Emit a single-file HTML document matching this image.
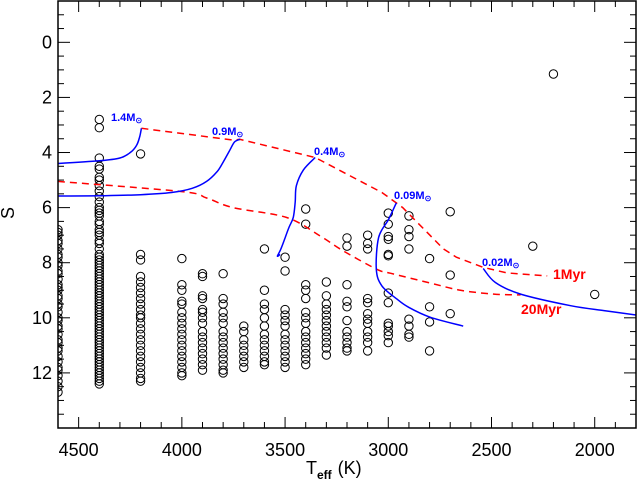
<!DOCTYPE html>
<html><head><meta charset="utf-8"><style>
html,body{margin:0;padding:0;background:#fff;}
svg{display:block;}
text{font-family:"Liberation Sans",sans-serif;}
</style></head><body>
<svg id="chart" width="637" height="483" viewBox="0 0 637 483" xmlns="http://www.w3.org/2000/svg">
<defs><clipPath id="clip"><rect x="58" y="1" width="578" height="427"/></clipPath></defs>
<g id="marks" clip-path="url(#clip)"></g>
<g id="axes"></g>
<rect x="58" y="1" width="578" height="427" fill="none" stroke="#000" stroke-width="1.5"/>
<text x="14" y="213" font-size="18" text-anchor="middle" font-family="Liberation Serif, serif" transform="rotate(-90 14 213)">S</text>
<text x="306" y="474" font-size="18" font-family="Liberation Serif, serif">T<tspan font-size="12" dy="5" font-family="Liberation Sans, sans-serif" font-weight="bold">eff</tspan><tspan dy="-5" dx="6">(K)</tspan></text>
</svg>
<script>
const xTicks=[4500,4000,3500,3000,2500,2000];
const yTicks=[0,2,4,6,8,10,12];
const colTemps=[4600,4400,4200,4000,3900,3800,3700,3600,3500,3400,3300,3200,3100,3000,2900,2800,2700,2300,2200,2000];
const colMags=[
[6.8,6.9,7.0,7.2,7.3,7.5,7.7,7.8,8.0,8.1,8.3,8.4,8.6,8.8,8.9,9.0,9.2,9.3,9.5,9.6,9.8,10.0,10.1,10.3,10.4,10.6,10.8,10.9,11.1,11.2,11.4,11.6,11.8,11.9,12.1,12.3,12.5,12.7],
[2.8,3.1,4.2,4.5,4.6,4.9,5.0,5.2,5.4,5.6,5.8,6.0,6.1,6.2,6.3,6.5,6.6,6.8,6.9,7.0,7.2,7.3,7.5,7.7,7.8,7.9,8.0,8.1,8.2,8.3,8.4,8.5,8.6,8.7,8.8,8.9,9.0,9.1,9.2,9.3,9.4,9.5,9.6,9.7,9.8,9.9,10.0,10.1,10.2,10.3,10.4,10.5,10.6,10.7,10.8,10.9,11.0,11.1,11.2,11.3,11.4,11.5,11.6,11.7,11.8,11.9,12.0,12.1,12.2,12.3,12.4],
[4.05,7.7,7.9,8.5,8.7,8.9,9.1,9.3,9.5,9.7,9.9,10.0,10.2,10.4,10.6,10.8,11.0,11.2,11.4,11.6,11.8,12.0,12.2,12.3],
[7.85,8.8,9.0,9.4,9.5,9.8,10.0,10.2,10.4,10.6,10.8,11.0,11.2,11.4,11.6,11.8,12.0,12.1],
[8.4,8.5,9.2,9.3,9.7,9.8,10.0,10.2,10.5,10.7,10.9,11.1,11.3,11.5,11.7,11.9],
[8.4,9.3,9.5,9.8,10.0,10.2,10.5,10.7,10.9,11.1,11.3,11.5,11.7,11.9,12.0],
[10.3,10.5,10.8,11.0,11.2,11.4,11.6,11.8],
[7.5,9.0,9.5,9.7,10.0,10.3,10.6,10.8,11.0,11.2,11.4,11.6,11.7],
[7.8,8.3,9.7,9.9,10.1,10.3,10.6,10.8,11.0,11.2,11.4,11.6,11.8],
[6.05,6.6,8.8,9.0,9.3,9.8,10.0,10.2,10.5,10.7,10.9,11.1,11.3,11.5,11.7],
[8.7,9.2,9.5,9.7,9.9,10.1,10.3,10.5,10.7,10.9,11.1,11.35],
[7.1,7.4,8.8,9.4,9.6,10.1,10.5,10.7,10.9,11.1,11.2],
[7.0,7.3,7.5,9.3,9.45,9.85,10.05,10.2,10.5,10.7,10.9,11.2],
[6.2,6.6,7.05,7.15,7.7,7.75,9.1,9.45,10.2,10.3,10.5,10.65,10.9],
[6.3,6.8,7.05,7.5,10.05,10.3,10.6,10.7],
[7.85,9.6,10.15,11.2],
[6.15,8.45,9.85],
[7.4],[1.15],[9.15]];
const iso1T=[4196,3751,3720,3354,3031,2961,2930,2733,2670,2539,2426,2230];
const iso1S=[3.12,3.55,3.52,4.18,5.45,5.83,6.0,7.5,7.8,8.17,8.37,8.48];
const iso20T=[4600,4000,3880,3752,3492,3330,3218,3055,2990,2796,2650,2489,2359];
const iso20S=[5.05,5.42,5.65,6.0,6.36,7.03,7.57,8.24,8.38,8.74,9.0,9.14,9.17];
const tr14T=[4600,4400,4300,4250,4220,4205,4196];
const tr14S=[4.4,4.3,4.2,4.0,3.75,3.45,3.12];
const tr09T=[4600,4400,4200,4050,3950,3880,3830,3800,3770,3745,3718];
const tr09S=[5.58,5.57,5.53,5.45,5.3,5.05,4.7,4.35,3.95,3.62,3.52];
const tr04T=[3354,3411,3445,3451,3460,3480,3500,3520,3537,3524];
const tr04S=[4.18,4.63,5.2,5.8,6.35,6.7,7.1,7.5,7.76,7.7];
const tr009T=[2961,2999,3047,3058,3031,2958,2901,2796,2637];
const tr009S=[5.83,6.43,7.09,8.24,8.84,9.32,9.62,9.98,10.3];
const tr002T=[2540,2481,2359,2117,1955,1796];
const tr002S=[8.21,8.72,9.14,9.56,9.74,9.9];

const NS="http://www.w3.org/2000/svg";
const X0=58,X1=636,Y0=1,Y1=428,TMAX=4600,TMIN=1800,SMIN=-1.5,SMAX=14;
function xs(t){return X0+(TMAX-t)/(TMAX-TMIN)*(X1-X0);}
function ys(s){return Y0+(s-SMIN)/(SMAX-SMIN)*(Y1-Y0);}
const marks=document.getElementById('marks'),axes=document.getElementById('axes');
function mk(tag,attrs,parent){const e=document.createElementNS(NS,tag);for(const k in attrs)e.setAttribute(k,attrs[k]);parent.appendChild(e);return e;}

colTemps.forEach((t,i)=>{colMags[i].forEach(s=>{
 const c=mk('circle',{cx:xs(t),cy:ys(s),r:4.2,fill:'none',stroke:'#000','stroke-width':1},marks);
 
 
});});
function line(T,S,color,dash,name,smooth){
 const P=T.map((t,i)=>[xs(t),ys(S[i])]);
 let d='M'+P[0][0].toFixed(1)+' '+P[0][1].toFixed(1);
 for(let i=1;i<P.length;i++){
  if(smooth){
   const p0=P[Math.max(i-2,0)],p1=P[i-1],p2=P[i],p3=P[Math.min(i+1,P.length-1)];
   const c1=[p1[0]+(p2[0]-p0[0])/6,p1[1]+(p2[1]-p0[1])/6],c2=[p2[0]-(p3[0]-p1[0])/6,p2[1]-(p3[1]-p1[1])/6];
   d+=' C'+c1.map(v=>v.toFixed(1)).join(' ')+' '+c2.map(v=>v.toFixed(1)).join(' ')+' '+p2[0].toFixed(1)+' '+p2[1].toFixed(1);
  } else d+=' L'+P[i][0].toFixed(1)+' '+P[i][1].toFixed(1);
 }
 const p=mk('path',{d:d,fill:'none',stroke:color,'stroke-width':1.5},marks);
 if(dash)p.setAttribute('stroke-dasharray','7 5');
 
 
}
line(iso1T,iso1S,'#f00',true,'isochrone-1myr',false);
line(iso20T,iso20S,'#f00',true,'isochrone-20myr',true);
line(tr14T,tr14S,'#00f',false,'track-1.4msun',true);
line(tr09T,tr09S,'#00f',false,'track-0.9msun',true);
line(tr04T,tr04S,'#00f',false,'track-0.4msun',true);
line(tr009T,tr009S,'#00f',false,'track-0.09msun',true);
line(tr002T,tr002S,'#00f',false,'track-0.02msun',true);

for(let t=4600;t>=1800;t-=100){
 const maj=t%500===0,L=maj?11:6,x=xs(t);
 mk('line',{x1:x,x2:x,y1:Y1,y2:Y1-L,stroke:'#000','stroke-width':1},axes);
 mk('line',{x1:x,x2:x,y1:Y0,y2:Y0+L,stroke:'#000','stroke-width':1},axes);
}
for(let s=-1.5;s<=14;s+=0.5){
 const maj=Math.abs(s%2)<1e-6,L=maj?12:6,y=ys(s);
 mk('line',{x1:X0,x2:X0+L,y1:y,y2:y,stroke:'#000','stroke-width':1},axes);
 mk('line',{x1:X1,x2:X1-L,y1:y,y2:y,stroke:'#000','stroke-width':1},axes);
}
xTicks.forEach(t=>{const e=mk('text',{x:xs(t),y:456,'font-size':18,'text-anchor':'middle','font-family':'Liberation Serif, serif'},axes);e.textContent=t;
 
 });
yTicks.forEach(s=>{const e=mk('text',{x:52,y:ys(s)+6,'font-size':18,'text-anchor':'end','font-family':'Liberation Serif, serif'},axes);e.textContent=s;
 
 });

const labs=[["1.4M",111,121,'#00f'],["0.9M",212,135,'#00f'],["0.4M",314,155,'#00f'],["0.09M",394,199,'#00f'],["0.02M",482,266,'#00f']];
labs.forEach(l=>{const e=mk('text',{x:l[1],y:l[2],'font-size':11,'font-weight':'bold',fill:l[3],'font-family':'Liberation Serif, serif'},axes);
 e.textContent=l[0];
 const sub=document.createElementNS(NS,'tspan');sub.setAttribute('font-size','8');sub.setAttribute('dy','2');sub.textContent='\u2299';e.appendChild(sub);
 
 });
const a1=mk('text',{x:553,y:279,'font-size':14,'font-weight':'bold',fill:'#f00','font-family':'Liberation Serif, serif'},axes);a1.textContent='1Myr';


const a2=mk('text',{x:521,y:314,'font-size':14,'font-weight':'bold',fill:'#f00','font-family':'Liberation Serif, serif'},axes);a2.textContent='20Myr';


</script>
</body></html>
